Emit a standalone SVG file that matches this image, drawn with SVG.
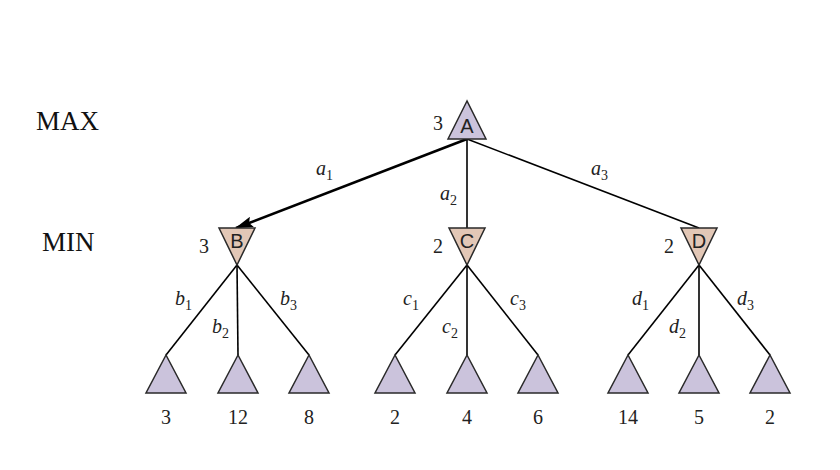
<svg xmlns="http://www.w3.org/2000/svg" width="840" height="470" viewBox="0 0 840 470">
<defs>
<marker id="ah" viewBox="0 0 18 11" refX="17" refY="5.5" markerWidth="18" markerHeight="11" markerUnits="userSpaceOnUse" orient="auto">
<path d="M0,0 L18,5.5 L0,11 L3,5.5 z" fill="#000"/>
</marker>
<style>
.max{fill:#cbc3dc;stroke:#2a2a2a;stroke-width:1.5;stroke-linejoin:miter}
.min{fill:#e2c7b6;stroke:#2a2a2a;stroke-width:1.5}
.e{stroke:#000;stroke-width:1.6;fill:none}
.thick{stroke-width:2.6}
.lbl{font-family:"Liberation Serif",serif;font-size:27px;fill:#111}
.v{font-family:"Liberation Serif",serif;font-size:20px;fill:#222;text-anchor:middle}
.n{font-family:"Liberation Sans",sans-serif;font-size:20px;fill:#222;text-anchor:middle}
.el{font-family:"Liberation Serif",serif;font-style:italic;font-size:20px;fill:#222}
.sub{font-style:normal;font-size:14px}
</style>
</defs>
<rect width="840" height="470" fill="#fff"/>
<text class="lbl" x="36" y="130">MAX</text>
<text class="lbl" x="42" y="251">MIN</text>
<g id="connectors">
<line class="e thick" x1="467" y1="139" x2="236" y2="228" marker-end="url(#ah)"/>
<line class="e" x1="467" y1="139" x2="467" y2="228"/>
<line class="e" x1="467" y1="139" x2="699" y2="228"/>
<line class="e" x1="237" y1="265" x2="166" y2="355"/>
<line class="e" x1="237" y1="265" x2="238" y2="355"/>
<line class="e" x1="237" y1="265" x2="309" y2="355"/>
<line class="e" x1="467" y1="265" x2="395" y2="355"/>
<line class="e" x1="467" y1="265" x2="467" y2="355"/>
<line class="e" x1="467" y1="265" x2="538" y2="355"/>
<line class="e" x1="699" y1="265" x2="628" y2="355"/>
<line class="e" x1="699" y1="265" x2="699" y2="355"/>
<line class="e" x1="699" y1="265" x2="770" y2="355"/>
<text class="el" x="316" y="175">a<tspan class="sub" dy="5">1</tspan></text>
<text class="el" x="440" y="200">a<tspan class="sub" dy="5">2</tspan></text>
<text class="el" x="591" y="175">a<tspan class="sub" dy="5">3</tspan></text>
<text class="el" x="175" y="305">b<tspan class="sub" dy="5">1</tspan></text>
<text class="el" x="212" y="333">b<tspan class="sub" dy="5">2</tspan></text>
<text class="el" x="280" y="305">b<tspan class="sub" dy="5">3</tspan></text>
<text class="el" x="403" y="305">c<tspan class="sub" dy="5">1</tspan></text>
<text class="el" x="442" y="333">c<tspan class="sub" dy="5">2</tspan></text>
<text class="el" x="510" y="305">c<tspan class="sub" dy="5">3</tspan></text>
<text class="el" x="632" y="305">d<tspan class="sub" dy="5">1</tspan></text>
<text class="el" x="669" y="333">d<tspan class="sub" dy="5">2</tspan></text>
<text class="el" x="737" y="305">d<tspan class="sub" dy="5">3</tspan></text>
</g>
<g id="A">
<polygon class="max" points="467,101 448,139 486,139"/>
<text class="n" x="467" y="133">A</text>
<text class="v" x="438" y="130">3</text>
</g>
<g id="B">
<polygon class="min" points="219,228 255,228 237,265"/>
<text class="n" x="237" y="248">B</text>
<text class="v" x="204" y="253">3</text>
</g>
<g id="C">
<polygon class="min" points="449,228 485,228 467,265"/>
<text class="n" x="467" y="248">C</text>
<text class="v" x="438" y="253">2</text>
</g>
<g id="D">
<polygon class="min" points="681,228 717,228 699,265"/>
<text class="n" x="699" y="248">D</text>
<text class="v" x="669" y="253">2</text>
</g>
<g id="L1"><polygon class="max" points="166,355 146,393 186,393"/><text class="v" x="166" y="424">3</text></g>
<g id="L2"><polygon class="max" points="238,355 218,393 258,393"/><text class="v" x="238" y="424">12</text></g>
<g id="L3"><polygon class="max" points="309,355 289,393 329,393"/><text class="v" x="309" y="424">8</text></g>
<g id="L4"><polygon class="max" points="395,355 375,393 415,393"/><text class="v" x="395" y="424">2</text></g>
<g id="L5"><polygon class="max" points="467,355 447,393 487,393"/><text class="v" x="467" y="424">4</text></g>
<g id="L6"><polygon class="max" points="538,355 518,393 558,393"/><text class="v" x="538" y="424">6</text></g>
<g id="L7"><polygon class="max" points="628,355 608,393 648,393"/><text class="v" x="628" y="424">14</text></g>
<g id="L8"><polygon class="max" points="699,355 679,393 719,393"/><text class="v" x="699" y="424">5</text></g>
<g id="L9"><polygon class="max" points="770,355 750,393 790,393"/><text class="v" x="770" y="424">2</text></g>
</svg>
